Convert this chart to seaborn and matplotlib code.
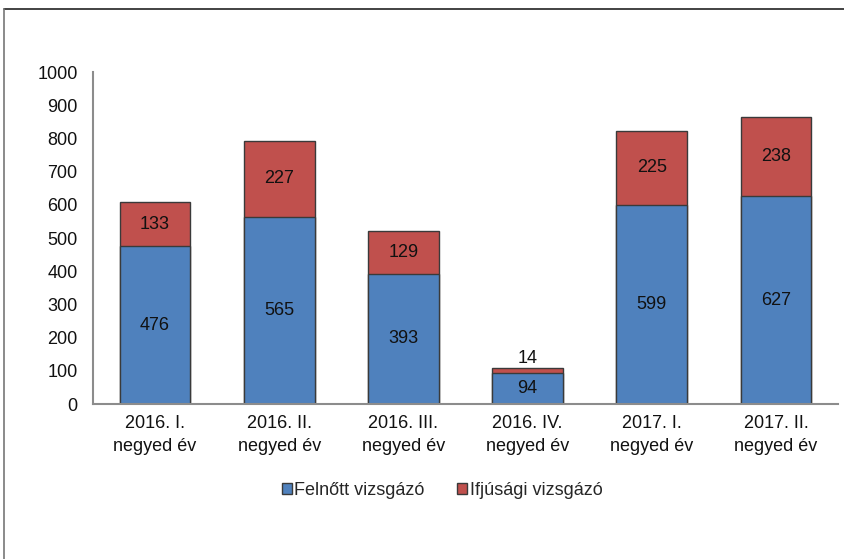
import matplotlib
matplotlib.use('Agg')
import matplotlib.pyplot as plt
from matplotlib.lines import Line2D
from matplotlib.patches import Patch
import seaborn as sns
import pandas as pd

quarters = ['2016. I.\nnegyed év', '2016. II.\nnegyed év', '2016. III.\nnegyed év',
            '2016. IV.\nnegyed év', '2017. I.\nnegyed év', '2017. II.\nnegyed év']
felnott = [476, 565, 393, 94, 599, 627]
ifjusagi = [133, 227, 129, 14, 225, 238]

blue = '#4F81BD'
red = '#C0504D'
edge = '#3a3a3a'

sns.set_theme(style='white')
plt.rcParams['font.family'] = ['Liberation Sans', 'DejaVu Sans']

df = pd.DataFrame({'quarter': quarters, 'felnott': felnott, 'ifjusagi': ifjusagi})
df['total'] = df['felnott'] + df['ifjusagi']

fig = plt.figure(figsize=(8.44, 5.59), dpi=100)
ax = fig.add_axes([0.110, 0.277, 0.883, 0.594])

sns.barplot(x='quarter', y='total', data=df, color=red, width=0.57,
            edgecolor=edge, linewidth=1.0, saturation=1, ax=ax)
sns.barplot(x='quarter', y='felnott', data=df, color=blue, width=0.57,
            edgecolor=edge, linewidth=1.0, saturation=1, ax=ax)

for i, row in df.iterrows():
    ax.text(i, row['felnott'] / 2, str(row['felnott']), ha='center', va='center',
            fontsize=13, color='#111111')
    if row['ifjusagi'] < 40:
        ax.text(i, row['total'] + 3, str(row['ifjusagi']), ha='center', va='bottom',
                fontsize=13, color='#111111')
    else:
        ax.text(i, row['felnott'] + row['ifjusagi'] / 2, str(row['ifjusagi']),
                ha='center', va='center', fontsize=13, color='#111111')

ax.set_xlim(-0.5, 5.5)
ax.set_ylim(0, 1000)
ax.set_yticks(range(0, 1001, 100))
ax.set_xlabel('')
ax.set_ylabel('')
for s in ['top', 'right']:
    ax.spines[s].set_visible(False)
for s in ['left', 'bottom']:
    ax.spines[s].set_color('#8c8c8c')
    ax.spines[s].set_linewidth(1.5)
ax.tick_params(axis='y', labelsize=13, pad=11, length=0, colors='#111111')
ax.tick_params(axis='x', labelsize=13, pad=8, length=0, colors='#111111')
for lbl in ax.get_xticklabels():
    lbl.set_linespacing(1.45)

handles = [Patch(facecolor=blue, edgecolor=edge, label='Felnőtt vizsgázó'),
           Patch(facecolor=red, edgecolor=edge, label='Ifjúsági vizsgázó')]
fig.legend(handles=handles, loc='center', bbox_to_anchor=(0.524, 0.123), ncol=2,
           frameon=False, fontsize=13, handlelength=0.55, handleheight=0.55,
           handletextpad=0.15, columnspacing=1.8)

fig.add_artist(Line2D([0.005, 1.0], [0.984, 0.984], color='#222222', lw=1.2,
                      transform=fig.transFigure))
fig.add_artist(Line2D([0.005, 0.005], [0.0, 0.984], color='#777777', lw=1.2,
                      transform=fig.transFigure))

fig.savefig('out.png', dpi=100, facecolor='white')
